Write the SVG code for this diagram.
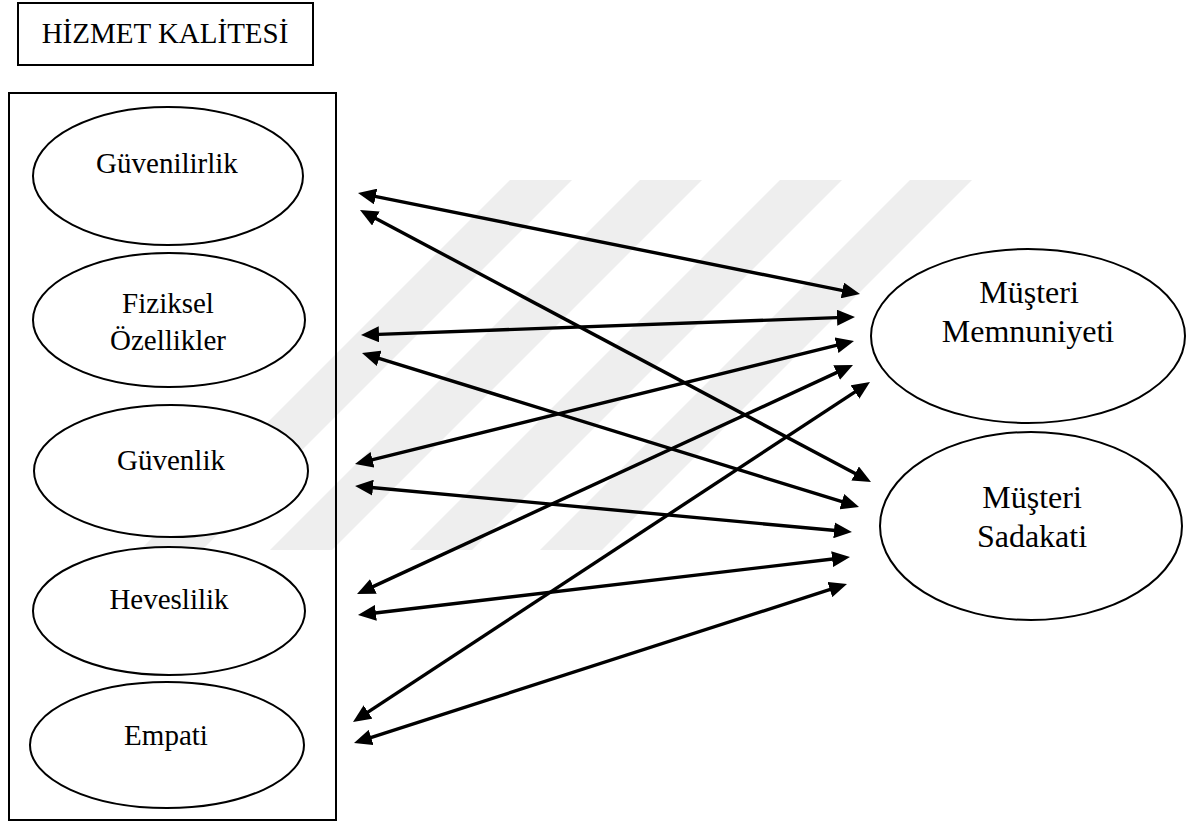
<svg xmlns="http://www.w3.org/2000/svg" width="1189" height="823" viewBox="0 0 1189 823">
<style>
.bg{fill:#ffffff}
.wm{fill:#eeeeee}
.box{fill:none;stroke:#000;stroke-width:2}
.node{fill:#ffffff;stroke:#000;stroke-width:2}
.lbl{font-size:29px;fill:#000;text-anchor:middle}
.lbl2{font-size:32px;fill:#000;text-anchor:middle}
.conn{stroke:#000;stroke-width:3.4;fill:none;marker-start:url(#ah);marker-end:url(#ah)}
</style>
<defs>
<marker id="ah" viewBox="0 0 18 16" refX="7" refY="8" markerWidth="18" markerHeight="16" markerUnits="userSpaceOnUse" orient="auto-start-reverse">
<path d="M0,0 L18,8 L0,16 z" fill="#000"/>
</marker>
</defs>
<rect class="bg" x="0" y="0" width="1189" height="823"/>
<g id="watermark">
<polygon class="wm" points="510,180 572,180 202,550 140,550"/>
<polygon class="wm" points="640,180 702,180 332,550 270,550"/>
<polygon class="wm" points="780,180 842,180 472,550 410,550"/>
<polygon class="wm" points="910,180 972,180 602,550 540,550"/>
</g>
<g font-family="Liberation Serif, Times New Roman, DejaVu Serif, serif">
<g id="title">
<rect class="box" x="18" y="3" width="295" height="62"/>
<text class="lbl" x="165" y="43">HİZMET KALİTESİ</text>
</g>
<g id="group-box">
<rect class="box" x="9" y="93" width="327" height="727"/>
</g>
<g id="guvenilirlik">
<ellipse class="node" cx="168" cy="176" rx="135" ry="69"/>
<text class="lbl" x="167" y="173">Güvenilirlik</text>
</g>
<g id="fiziksel">
<ellipse class="node" cx="169" cy="320" rx="136" ry="67"/>
<text class="lbl" x="168" y="313">Fiziksel</text>
<text class="lbl" x="168" y="350">Özellikler</text>
</g>
<g id="guvenlik">
<ellipse class="node" cx="171" cy="471" rx="137" ry="66"/>
<text class="lbl" x="171" y="470">Güvenlik</text>
</g>
<g id="heveslilik">
<ellipse class="node" cx="169" cy="611" rx="136" ry="64"/>
<text class="lbl" x="169" y="609">Heveslilik</text>
</g>
<g id="empati">
<ellipse class="node" cx="167" cy="745" rx="137" ry="63"/>
<text class="lbl" x="166" y="745">Empati</text>
</g>
<g id="memnuniyet">
<ellipse class="node" cx="1028" cy="336" rx="157" ry="87"/>
<text class="lbl2" x="1029" y="303">Müşteri</text>
<text class="lbl2" x="1028" y="342">Memnuniyeti</text>
</g>
<g id="sadakat">
<ellipse class="node" cx="1031" cy="526" rx="151" ry="94"/>
<text class="lbl2" x="1032" y="508">Müşteri</text>
<text class="lbl2" x="1032" y="547">Sadakati</text>
</g>
</g>
<g id="connectors">
<line class="conn" x1="368.8" y1="195.2" x2="849.2" y2="291.8"/>
<line class="conn" x1="369.7" y1="215.2" x2="861.3" y2="476.8"/>
<line class="conn" x1="372.0" y1="334.6" x2="844.0" y2="317.4"/>
<line class="conn" x1="372.5" y1="356.3" x2="848.5" y2="503.7"/>
<line class="conn" x1="365.7" y1="461.4" x2="843.3" y2="343.6"/>
<line class="conn" x1="366.0" y1="487.0" x2="841.0" y2="531.0"/>
<line class="conn" x1="367.0" y1="589.4" x2="843.0" y2="369.6"/>
<line class="conn" x1="368.9" y1="613.7" x2="839.1" y2="558.3"/>
<line class="conn" x1="362.2" y1="715.9" x2="860.8" y2="388.1"/>
<line class="conn" x1="364.5" y1="739.6" x2="836.5" y2="587.4"/>
</g>
</svg>
